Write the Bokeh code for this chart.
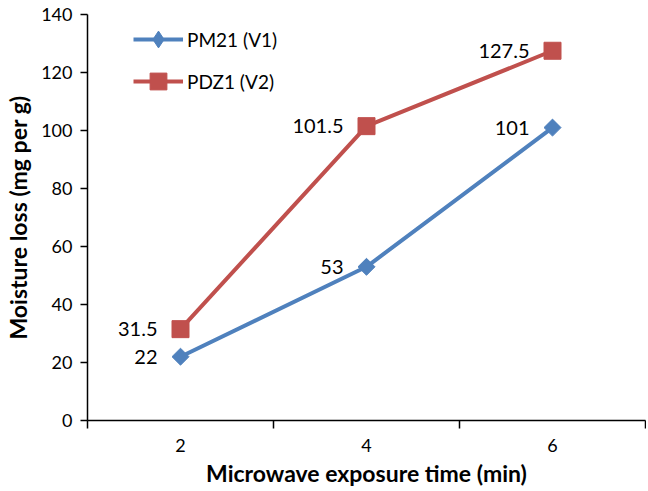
from bokeh.plotting import figure
from bokeh.models import Range1d, FixedTicker, LegendItem, Legend
from bokeh.core.properties import value
from bokeh.embed import file_html
from bokeh.resources import INLINE
import math

categories = ["2", "4", "6"]
pm21 = [22, 53, 101]
pdz1 = [31.5, 101.5, 127.5]
pm21_labels = ["22", "53", "101"]
pdz1_labels = ["31.5", "101.5", "127.5"]
y_ticks = [0, 20, 40, 60, 80, 100, 120, 140]

xs = list(range(len(categories)))
FONT = "Lato"
BLUE = "#4F81BD"
RED = "#C0504D"

p = figure(width=646, height=489, output_backend="svg", toolbar_location=None,
           x_range=Range1d(-0.5, len(categories) - 0.5), y_range=Range1d(0, 140),
           min_border_left=87, min_border_right=1, min_border_top=14, min_border_bottom=68)
p.outline_line_color = None
p.xgrid.visible = False
p.ygrid.visible = False

l1 = p.line(xs, pm21, line_color=BLUE, line_width=4)
# diamond marker (used for the legend swatch; hidden under the rotated squares)
d1 = p.scatter(xs, pm21, marker="diamond", size=12, fill_color=BLUE, line_color=BLUE)
s1 = p.scatter(xs, pm21, marker="square", angle=math.pi / 4, size=12, fill_color=BLUE,
               line_color=BLUE)
l2 = p.line(xs, pdz1, line_color=RED, line_width=4)
s2 = p.scatter(xs, pdz1, marker="square", size=17, fill_color=RED, line_color=RED)

p.text(xs, pm21, text=pm21_labels, text_align="right", text_baseline="middle",
       x_offset=-23, text_font=value(FONT), text_font_size="20px", text_color="#000000")
p.text(xs, pdz1, text=pdz1_labels, text_align="right", text_baseline="middle",
       x_offset=-23, text_font=value(FONT), text_font_size="20px", text_color="#000000")

# x axis
p.xaxis.ticker = FixedTicker(ticks=xs, minor_ticks=[i - 0.5 for i in range(len(categories) + 1)])
p.xaxis.major_label_overrides = {i: c for i, c in enumerate(categories)}
p.xaxis.major_tick_out = 0
p.xaxis.major_tick_in = 0
p.xaxis.minor_tick_out = 8
p.xaxis.minor_tick_in = 0
p.xaxis.minor_tick_line_color = "#000000"
p.xaxis.minor_tick_line_width = 1.5
p.xaxis.major_label_standoff = 10
p.xaxis.axis_label = "Microwave exposure time (min)"

# y axis
p.yaxis.ticker = FixedTicker(ticks=y_ticks)
p.yaxis.minor_tick_line_color = None
p.yaxis.major_tick_out = 7
p.yaxis.major_tick_in = 0
p.yaxis.major_label_standoff = 8
p.yaxis.axis_label = "Moisture loss (mg per g)"

for ax in (p.xaxis, p.yaxis):
    ax.axis_line_color = "#000000"
    ax.axis_line_width = 1.5
    ax.major_tick_line_color = "#000000"
    ax.major_tick_line_width = 1.5
    ax.major_label_text_font = FONT
    ax.major_label_text_font_size = "18px"
    ax.major_label_text_color = "#000000"
    ax.axis_label_text_font = FONT
    ax.axis_label_text_font_size = "23px"
    ax.axis_label_text_font_style = "bold"
    ax.axis_label_text_color = "#000000"
p.xaxis.axis_label_standoff = 4
p.yaxis.axis_label_standoff = 6

leg = Legend(items=[LegendItem(label="PM21 (V1)", renderers=[l1, d1]),
                    LegendItem(label="PDZ1 (V2)", renderers=[l2, s2])])
p.add_layout(leg, "center")
leg.location = (46, 318)
leg.padding = 0
leg.margin = 0
leg.spacing = 0
leg.glyph_width = 50
leg.glyph_height = 42
leg.label_height = 20
leg.label_standoff = 4
leg.label_text_font = FONT
leg.label_text_font_size = "19px"
leg.label_text_color = "#000000"
leg.border_line_color = None
leg.background_fill_alpha = 0

open("out.html", "w").write(file_html(p, INLINE))
